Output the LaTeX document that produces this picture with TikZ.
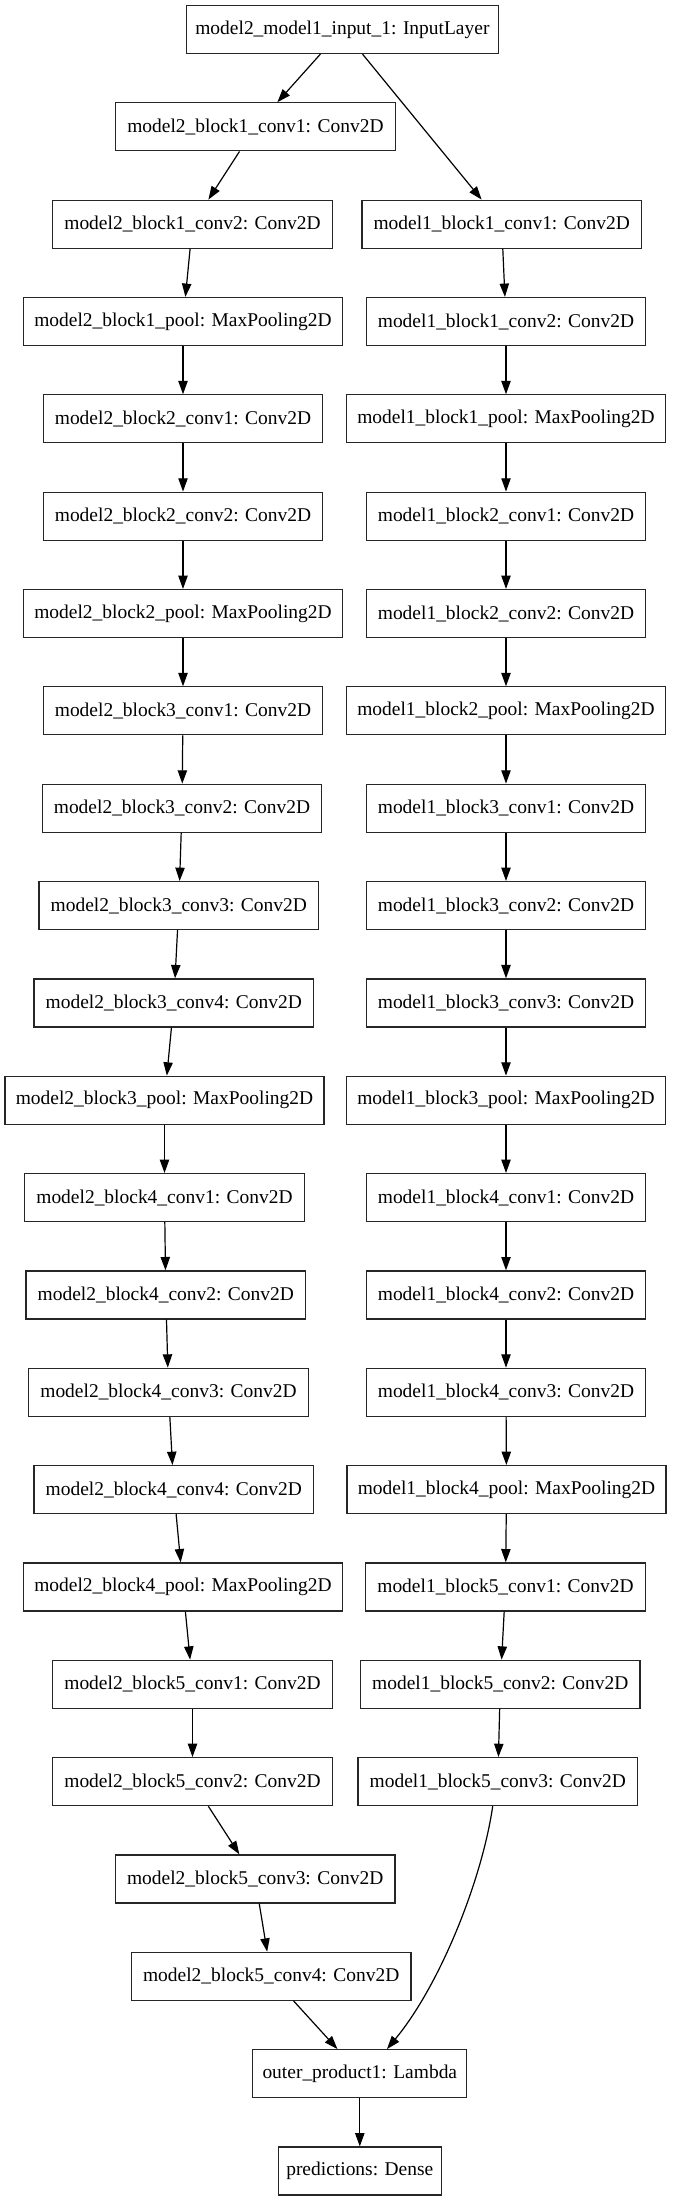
\documentclass[tikz,border=0pt]{standalone}
\usepackage{fontspec}
\setmainfont{Liberation Serif}
\usetikzlibrary{arrows.meta,calc}
\begin{document}
\begin{tikzpicture}[x=0.75pt,y=-0.75pt,
  layer/.style={draw=black!85,line width=0.9pt,rectangle,minimum height=36pt,inner sep=0pt,
    font=\fontsize{14.6pt}{17pt}\selectfont},
  conv/.style={layer,minimum width=209.6pt},
  pool/.style={layer,minimum width=239.25pt},
  edge/.style={draw=black,line width=0.9pt,-{Triangle[length=10pt,width=7pt]}}]
\fill[white] (0,0) rectangle (672,2201);
\useasboundingbox (0,0) rectangle (672,2201);
% top
\node[layer,minimum width=234.4pt] (in) at (342.4,29.5) {model2\_model1\_input\_1: InputLayer};
% left chain (model2)
\node[conv] (a1)  at (255.4,126.84)  {model2\_block1\_conv1: Conv2D};
\node[conv] (a2)  at (192.5,224.18)  {model2\_block1\_conv2: Conv2D};
\node[pool] (a3)  at (183,321.52)    {model2\_block1\_pool: MaxPooling2D};
\node[conv] (a4)  at (183,418.86)    {model2\_block2\_conv1: Conv2D};
\node[conv] (a5)  at (183,516.2)     {model2\_block2\_conv2: Conv2D};
\node[pool] (a6)  at (183,613.54)    {model2\_block2\_pool: MaxPooling2D};
\node[conv] (a7)  at (183,710.88)    {model2\_block3\_conv1: Conv2D};
\node[conv] (a8)  at (182,808.22)    {model2\_block3\_conv2: Conv2D};
\node[conv] (a9)  at (178.8,905.56)  {model2\_block3\_conv3: Conv2D};
\node[conv] (a10) at (173.8,1002.9)  {model2\_block3\_conv4: Conv2D};
\node[pool] (a11) at (164.5,1100.24) {model2\_block3\_pool: MaxPooling2D};
\node[conv] (a12) at (164.5,1197.58) {model2\_block4\_conv1: Conv2D};
\node[conv] (a13) at (165.8,1294.92) {model2\_block4\_conv2: Conv2D};
\node[conv] (a14) at (168.5,1392.26) {model2\_block4\_conv3: Conv2D};
\node[conv] (a15) at (173.8,1489.6)  {model2\_block4\_conv4: Conv2D};
\node[pool] (a16) at (183,1586.94)   {model2\_block4\_pool: MaxPooling2D};
\node[conv] (a17) at (192.5,1684.28) {model2\_block5\_conv1: Conv2D};
\node[conv] (a18) at (192.5,1781.62) {model2\_block5\_conv2: Conv2D};
\node[conv] (a19) at (255.2,1878.96) {model2\_block5\_conv3: Conv2D};
\node[conv] (a20) at (271.2,1976.3)  {model2\_block5\_conv4: Conv2D};
% right chain (model1)
\node[conv] (b1)  at (501.7,224.18)  {model1\_block1\_conv1: Conv2D};
\node[conv] (b2)  at (506,321.52)    {model1\_block1\_conv2: Conv2D};
\node[pool] (b3)  at (506,418.86)    {model1\_block1\_pool: MaxPooling2D};
\node[conv] (b4)  at (506,516.2)     {model1\_block2\_conv1: Conv2D};
\node[conv] (b5)  at (506,613.54)    {model1\_block2\_conv2: Conv2D};
\node[pool] (b6)  at (506,710.88)    {model1\_block2\_pool: MaxPooling2D};
\node[conv] (b7)  at (506,808.22)    {model1\_block3\_conv1: Conv2D};
\node[conv] (b8)  at (506,905.56)    {model1\_block3\_conv2: Conv2D};
\node[conv] (b9)  at (506,1002.9)    {model1\_block3\_conv3: Conv2D};
\node[pool] (b10) at (506,1100.24)   {model1\_block3\_pool: MaxPooling2D};
\node[conv] (b11) at (506,1197.58)   {model1\_block4\_conv1: Conv2D};
\node[conv] (b12) at (506,1294.92)   {model1\_block4\_conv2: Conv2D};
\node[conv] (b13) at (506,1392.26)   {model1\_block4\_conv3: Conv2D};
\node[pool] (b14) at (506.5,1489.6)  {model1\_block4\_pool: MaxPooling2D};
\node[conv] (b15) at (505.5,1586.94) {model1\_block5\_conv1: Conv2D};
\node[conv] (b16) at (500.3,1684.28) {model1\_block5\_conv2: Conv2D};
\node[conv] (b17) at (497.8,1781.62) {model1\_block5\_conv3: Conv2D};
% merge
\node[layer,minimum width=160.5pt] (outer) at (359.8,2073.64) {outer\_product1: Lambda};
\node[layer,minimum width=122.25pt] (pred) at (359.8,2170.98) {predictions: Dense};
% edges
\draw[edge] (in) -- (a1);
\draw[edge] (in) -- (b1);
\foreach \i [count=\j from 2] in {1,...,19} {
  \draw[edge] (a\i) -- (a\j);
}
\foreach \i [count=\j from 2] in {1,...,16} {
  \draw[edge] (b\i) -- (b\j);
}
\draw[edge] (a20) -- (outer);
\draw[edge] ($(b17.south)+(-5.1,0)$) .. controls (482,1880) and (440,1985) .. ($(outer.north)+(27.2,0)$);
\draw[edge] (outer) -- (pred);
\end{tikzpicture}
\end{document}
